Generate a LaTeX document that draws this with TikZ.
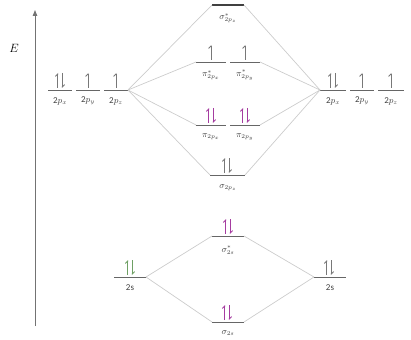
\documentclass[tikz,border=0pt]{standalone}
\usepackage{fontspec}
\setmainfont{Carlito}
\usetikzlibrary{arrows.meta}
\definecolor{epurple}{RGB}{165,60,160}
\definecolor{egreen}{RGB}{110,160,100}
\definecolor{egray}{RGB}{120,120,120}
\newcommand\mlevel[5][]{\draw[lvl,#1] (#3,#5) coordinate (#2-l) -- (#4,#5) coordinate (#2-r);}
\newcommand\eup[3]{\draw[el,#3] (#1,#2-2) -- (#1,#2-17);}
\newcommand\edn[3]{\draw[el,#3] (#1,#2-17) -- (#1,#2-2);}
\newcommand\epair[3]{\eup{#1-2.2}{#2}{#3}\edn{#1+2.2}{#2}{#3}}
\begin{document}
\begin{tikzpicture}[x=1pt,y=-1pt,
  lvl/.style={line width=0.9pt, draw=black!60},
  conn/.style={line width=0.7pt, draw=black!20},
  el/.style={line width=0.8pt, -{Straight Barb[left,length=2.5pt,width=5pt]}},
  lab/.style={font=\fontsize{9}{10}\selectfont, text=black!75, inner sep=0.5pt}]
\useasboundingbox (0,0) rectangle (411,339);
% axis
\coordinate (ax0) at (35,326);
\coordinate (ax1) at (35,10);
\draw[line width=1pt, draw=black!55, -{Triangle[length=6pt,width=4.5pt]}] (ax0) -- (ax1);
\node[font=\fontsize{13}{14}\selectfont] (E) at (14,48) {$E$};
% atomic levels left
\mlevel{L2px}{48}{72}{90}
\mlevel{L2py}{76}{100}{90}
\mlevel{L2pz}{104}{128}{90}
\mlevel{L2s}{114}{146}{277}
% atomic levels right
\mlevel{R2px}{320}{346}{90}
\mlevel{R2py}{350}{374}{90}
\mlevel{R2pz}{378}{404}{90}
\mlevel{R2s}{314}{346}{277}
% molecular levels
\mlevel[line width=1.6pt, draw=black!75]{sps}{212}{244}{5}
\mlevel{pxs}{196}{226}{62}
\mlevel{pys}{230}{260}{62}
\mlevel{px}{196}{226}{125}
\mlevel{py}{230}{260}{125}
\mlevel{sp}{210}{245}{175}
\mlevel{sss}{212}{244}{236}
\mlevel{ss}{212}{244}{322}
% connectors
\draw[conn] (L2pz-r) -- (sps-l);
\draw[conn] (L2pz-r) -- (pxs-l);
\draw[conn] (L2pz-r) -- (px-l);
\draw[conn] (L2pz-r) -- (sp-l);
\draw[conn] (R2px-l) -- (sps-r);
\draw[conn] (R2px-l) -- (pys-r);
\draw[conn] (R2px-l) -- (py-r);
\draw[conn] (R2px-l) -- (sp-r);
\draw[conn] (L2s-r) -- (sss-l);
\draw[conn] (L2s-r) -- (ss-l);
\draw[conn] (R2s-l) -- (sss-r);
\draw[conn] (R2s-l) -- (ss-r);
% electrons
\epair{60}{90}{egray}
\eup{88}{90}{egray}
\eup{116}{90}{egray}
\epair{333}{90}{egray}
\eup{362}{90}{egray}
\eup{391}{90}{egray}
\eup{211}{62}{egray}
\eup{245}{62}{egray}
\epair{211}{125}{epurple}
\epair{245}{125}{epurple}
\epair{227}{175}{egray}
\epair{228}{236}{epurple}
\epair{227}{322}{epurple}
\epair{130}{277}{egreen}
\epair{329}{277}{egray}
% labels
\node[lab] (tL2px) at (60,101) {2$p_x$};
\node[lab] (tL2py) at (88,101) {2$p_y$};
\node[lab] (tL2pz) at (116,101) {2$p_z$};
\node[lab] (tR2px) at (333,101) {2$p_x$};
\node[lab] (tR2py) at (362,101) {2$p_y$};
\node[lab] (tR2pz) at (391,101) {2$p_z$};
\node[lab] (tL2s) at (130,288) {2s};
\node[lab] (tR2s) at (330,288) {2s};
\node[lab] (tsps) at (228,18) {$\sigma^*_{2p_z}$};
\node[lab] (tpxs) at (211,75) {$\pi^*_{2p_x}$};
\node[lab] (tpys) at (245,75) {$\pi^*_{2p_y}$};
\node[lab] (tpx) at (211,137) {$\pi_{2p_x}$};
\node[lab] (tpy) at (245,137) {$\pi_{2p_y}$};
\node[lab] (tsp) at (228,188) {$\sigma_{2p_z}$};
\node[lab] (tsss) at (228,250) {$\sigma^*_{2s}$};
\node[lab] (tss) at (228,333) {$\sigma_{2s}$};
\end{tikzpicture}
\end{document}
